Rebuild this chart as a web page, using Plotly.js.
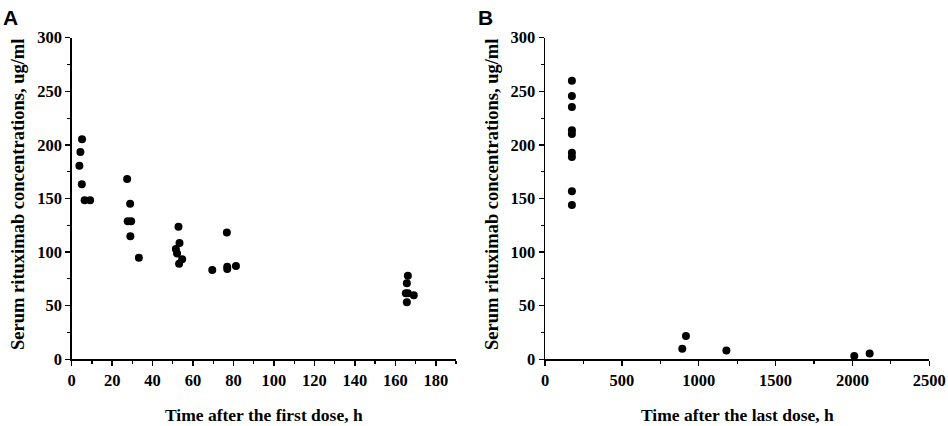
<!DOCTYPE html>
<html>
<head>
<meta charset="utf-8">
<script src="https://cdn.plot.ly/plotly-3.0.1.min.js"></script>
<style>
  html, body { margin: 0; padding: 0; background: #fff; }
  #chart_div { width: 948px; height: 426px; }
</style>
</head>
<body>
<div id="chart_div"></div>
<script>
// panel A: hours after the first dose vs serum concentration (ug/ml)
var first_dose_h = [3.8, 4.3, 5.1, 5.0, 6.4, 9.1,
                    27.4, 28.9, 27.7, 29.4, 29.0, 33.2,
                    52.8, 53.3, 51.5, 52.1, 53.1, 54.6,
                    69.5, 76.7, 76.9, 76.9, 81.2,
                    166.2, 165.7, 165.2, 166.2, 165.7, 169.1];
var first_dose_conc = [180.6, 193.3, 205.2, 163.2, 148.3, 148.3,
                       168.2, 145.2, 128.7, 128.7, 114.7, 94.8,
                       123.7, 108.5, 102.9, 98.8, 89.2, 93.3,
                       83.3, 118.4, 86.4, 84.2, 87.0,
                       78.0, 70.9, 61.5, 61.5, 53.2, 59.7];

// panel B: hours after the last dose vs serum concentration (ug/ml)
var last_dose_h = [175, 175, 175, 175, 175, 175, 175, 175, 175,
                   893, 917, 1180, 2012, 2112];
var last_dose_conc = [259.9, 245.6, 235.3, 213.6, 210.1, 192.7, 188.7, 156.7, 143.9,
                      9.9, 21.8, 8.1, 3.1, 5.3];

var y_ticks = [0, 50, 100, 150, 200, 250, 300];

var serif = 'Liberation Serif, Times New Roman, serif';

function scatter(x, y, xa, ya) {
	return {
		x: x,
		y: y,
		xaxis: xa,
		yaxis: ya,
		mode: 'markers',
		type: 'scatter',
		marker: { color: '#000', size: 8 },
		hoverinfo: 'x+y',
		showlegend: false
	};
}

var data = [
	scatter(first_dose_h, first_dose_conc, 'x', 'y'),
	scatter(last_dose_h, last_dose_conc, 'x2', 'y2')
];

//common style for all four axes
function axis(extra) {
	var a = {
		showgrid: false,
		zeroline: false,
		showline: true,
		linecolor: '#000',
		linewidth: 1.5,
		ticks: 'outside',
		ticklen: 5,
		tickwidth: 1.5,
		tickcolor: '#000',
		tickfont: { family: serif, size: 16.5, color: '#000', weight: 700 },
		fixedrange: true
	};
	for (var k in extra) a[k] = extra[k];
	return a;
}

var y_top = 1 - 37.7 / 426;
var y_bot = 1 - 359.3 / 426;

var layout = {
	width: 948,
	height: 426,
	margin: { l: 0, r: 0, t: 0, b: 0 },
	paper_bgcolor: '#fff',
	plot_bgcolor: '#fff',
	xaxis: axis({ domain: [71.7 / 948, 456 / 948], range: [0, 190], dtick: 20, tick0: 0,
		minor: { dtick: 10, ticks: 'outside', ticklen: 3, tickcolor: '#000', tickwidth: 1.2 } }),
	yaxis: axis({ domain: [y_bot, y_top], range: [0, 300], tickvals: y_ticks,
		minor: { dtick: 25, ticks: 'outside', ticklen: 3, tickcolor: '#000', tickwidth: 1.2 } }),
	xaxis2: axis({ domain: [545 / 948, 929.3 / 948], range: [0, 2500], dtick: 500, tick0: 0, anchor: 'y2',
		minor: { dtick: 250, ticks: 'outside', ticklen: 3, tickcolor: '#000', tickwidth: 1.2 } }),
	yaxis2: axis({ domain: [y_bot, y_top], range: [0, 300], tickvals: y_ticks, anchor: 'x2',
		minor: { dtick: 25, ticks: 'outside', ticklen: 3, tickcolor: '#000', tickwidth: 1.2 } }),
	annotations: [
		{ text: 'A', x: 0.5 / 948, y: 1 - 4 / 426, xref: 'paper', yref: 'paper', xanchor: 'left', yanchor: 'top',
		  showarrow: false, font: { family: 'Liberation Sans, Arial, sans-serif', size: 21, color: '#000', weight: 700 } },
		{ text: 'B', x: 476 / 948, y: 1 - 4 / 426, xref: 'paper', yref: 'paper', xanchor: 'left', yanchor: 'top',
		  showarrow: false, font: { family: 'Liberation Sans, Arial, sans-serif', size: 21, color: '#000', weight: 700 } },
		{ text: 'Time after the first dose, h', x: 264 / 948, y: 1 - 415 / 426, xref: 'paper', yref: 'paper',
		  xanchor: 'center', yanchor: 'middle', showarrow: false,
		  font: { family: serif, size: 17.5, color: '#000', weight: 700 } },
		{ text: 'Time after the last dose, h', x: 737 / 948, y: 1 - 415 / 426, xref: 'paper', yref: 'paper',
		  xanchor: 'center', yanchor: 'middle', showarrow: false,
		  font: { family: serif, size: 17.5, color: '#000', weight: 700 } },
		{ text: 'Serum rituximab concentrations, ug/ml', x: 18 / 948, y: 1 - 195 / 426, xref: 'paper', yref: 'paper',
		  xanchor: 'center', yanchor: 'middle', showarrow: false, textangle: -90,
		  font: { family: serif, size: 18.5, color: '#000', weight: 700 } },
		{ text: 'Serum rituximab concentrations, ug/ml', x: 492 / 948, y: 1 - 195 / 426, xref: 'paper', yref: 'paper',
		  xanchor: 'center', yanchor: 'middle', showarrow: false, textangle: -90,
		  font: { family: serif, size: 18.5, color: '#000', weight: 700 } }
	]
};

Plotly.newPlot('chart_div', data, layout, { displayModeBar: false, staticPlot: true });
</script>
</body>
</html>
